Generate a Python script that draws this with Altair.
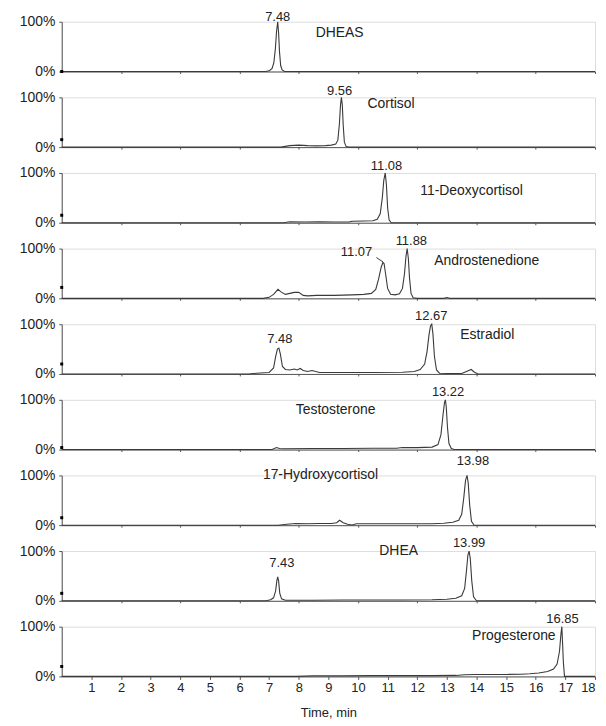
import altair as alt
import pandas as pd

FONT = "Liberation Sans"
INK = "#222222"
LINE = "#3a3a3a"
AXC = "#555555"

compounds = ["DHEAS", "Cortisol", "11-Deoxycortisol", "Androstenedione", "Estradiol",
             "Testosterone", "17-Hydroxycortisol", "DHEA", "Progesterone"]

# ---- traces (time in min, relative intensity in %) ----
t_dheas = [0, 6.9, 7.02, 7.1, 7.16, 7.21, 7.25, 7.29, 7.32, 7.35, 7.39, 7.44, 7.52, 18]
i_dheas = [0, 0, 2, 6, 18, 45, 80, 100, 78, 40, 12, 3, 0, 0]

t_cort = [0, 7.4, 7.7, 8.0, 8.3, 8.6, 8.9, 9.1, 9.25, 9.32, 9.37, 9.41, 9.44, 9.47, 9.5, 9.54, 9.6, 9.7, 18]
i_cort = [0, 0, 3, 4, 3, 2.5, 3, 4, 6, 14, 45, 85, 100, 85, 45, 10, 1, 0, 0]

t_deoxy = [0, 7.5, 7.7, 8.2, 8.7, 9.2, 9.7, 9.8, 10.2, 10.5, 10.65, 10.75, 10.82, 10.87, 10.92, 10.96, 11.0, 11.05, 11.12, 18]
i_deoxy = [0, 0, 2, 1.5, 2, 1.5, 1.5, 3, 3.5, 4, 7, 18, 50, 85, 100, 75, 30, 6, 0, 0]

t_andro = [0, 6.8, 7.0, 7.15, 7.3, 7.4, 7.55, 7.7, 7.85, 8.0, 8.15, 8.3, 8.6, 9.2, 9.8, 10.2, 10.45, 10.6, 10.7,
           10.78, 10.84, 10.88, 10.93, 11.0, 11.1, 11.25, 11.4, 11.5, 11.57, 11.62, 11.66, 11.7, 11.74, 11.79,
           11.86, 12.0, 12.9, 13.0, 13.1, 18]
i_andro = [0, 0, 2, 8, 18, 13, 8, 10, 12, 12, 6, 5, 6, 6, 7, 8, 10, 18, 40,
           62, 72, 70, 50, 20, 8, 7, 9, 20, 50, 85, 100, 80, 40, 10,
           1, 0, 0, 1.5, 0, 0]

t_estra = [0, 6.3, 6.7, 7.0, 7.15, 7.22, 7.28, 7.33, 7.38, 7.45, 7.55, 7.7, 7.85, 7.95, 8.05, 8.15, 8.3, 8.45,
           8.7, 9.5, 10.5, 11.5, 11.9, 12.1, 12.25, 12.33, 12.4, 12.45, 12.49, 12.53, 12.58, 12.65, 12.75, 13.0,
           13.5, 13.7, 13.82, 13.92, 14.05, 18]
i_estra = [0, 0, 2, 3, 12, 35, 50, 52, 40, 15, 9, 8, 10, 8, 11, 7, 5, 7,
           3, 3, 3, 3.5, 5, 9, 20, 45, 80, 97, 100, 80, 35, 8, 1.5, 1,
           1, 6, 9, 4, 0, 0]

t_testo = [0, 7.1, 7.25, 7.35, 7.5, 8.5, 9.5, 10.5, 11.3, 11.5, 12.0, 12.5, 12.7, 12.8, 12.87, 12.92, 12.95,
           12.98, 13.02, 13.07, 13.15, 13.25, 18]
i_testo = [0, 0, 4, 2, 1.5, 2, 2, 2.5, 2.5, 4, 4, 5, 10, 30, 70, 95, 100,
           85, 45, 12, 2, 0, 0]

t_hydro = [0, 7.3, 7.6, 7.9, 8.3, 8.7, 9.1, 9.28, 9.38, 9.5, 9.65, 9.8, 9.95, 10.5, 11.5, 12.5, 12.9, 13.2,
           13.4, 13.5, 13.57, 13.63, 13.68, 13.72, 13.77, 13.83, 13.92, 18]
i_hydro = [0, 0, 2, 3.5, 3, 3.5, 3.5, 5, 10, 5, 2, 0.5, 3, 3, 3, 3, 4, 6,
           10, 22, 55, 90, 100, 85, 40, 8, 0, 0]

t_dhea = [0, 6.9, 7.05, 7.15, 7.22, 7.26, 7.29, 7.32, 7.36, 7.42, 7.55, 8.5, 9.5, 10.5, 11.5, 12.5, 13.0,
          13.3, 13.5, 13.6, 13.66, 13.71, 13.75, 13.79, 13.84, 13.9, 14.0, 18]
i_dhea = [0, 0, 2, 6, 20, 40, 48, 40, 15, 4, 1, 1, 1.5, 1.5, 1.5, 2, 3,
          5, 10, 25, 60, 92, 100, 85, 40, 8, 0, 0]

t_prog = [0, 7.9, 8.5, 9.5, 10.5, 11.5, 12.5, 13.3, 13.6, 14.0, 14.5, 15.0, 15.5, 15.8, 16.1, 16.4, 16.6,
          16.72, 16.8, 16.85, 16.88, 16.91, 16.93, 16.97, 18]
i_prog = [0, 0, 1, 1, 1.5, 1.5, 1.5, 2, 3.5, 4, 4, 4, 4.5, 5.5, 7, 10, 15,
          25, 50, 85, 100, 60, 30, 0, 0]

traces = [(t_dheas, i_dheas), (t_cort, i_cort), (t_deoxy, i_deoxy), (t_andro, i_andro),
          (t_estra, i_estra), (t_testo, i_testo), (t_hydro, i_hydro), (t_dhea, i_dhea), (t_prog, i_prog)]

# ---- peak retention-time labels ----
peak_panel = [0, 1, 2, 3, 3, 4, 4, 5, 6, 7, 7, 8]
peak_text = ["7.48", "9.56", "11.08", "11.07", "11.88", "7.48", "12.67", "13.22", "13.98", "7.43", "13.99", "16.85"]
peak_x = [7.29, 9.38, 10.96, 9.95, 11.8, 7.36, 12.47, 13.04, 13.88, 7.43, 13.75, 16.9]
peak_y = [110, 112, 114, 94, 116, 70, 116, 116, 128, 76, 117, 116]

# ---- compound name labels ----
name_x = [8.57, 10.32, 12.1, 12.57, 13.45, 7.9, 6.79, 10.72, 16.67]
name_y = [78, 86, 64, 76, 78, 80, 100, 100, 82]
name_align = ["left"] * 8 + ["right"]

# leader from "11.07" to its peak (Androstenedione panel)
lead_x = [10.62]
lead_y = [82]
lead_x2 = [10.85]
lead_y2 = [73]

# small marker on each y axis
marker_y = [0, 15, 15, 22, 20, 4, 15, 15, 20]

XS = alt.Scale(domain=[0, 18], nice=False, zero=False)
YS = alt.Scale(domain=[0, 100], nice=False)

W, H = 536, 50


def y_axis():
    return alt.Axis(values=[0, 100], labelExpr="datum.value + '%'", title=None, grid=False,
                    tickSize=3, labelPadding=4, labelFontSize=14, labelFont=FONT, labelColor=INK,
                    domainColor=AXC, tickColor=AXC, minExtent=48)


def x_axis(last):
    if last:
        return alt.Axis(values=list(range(1, 19)), title="Time, min", grid=False, tickSize=3,
                        labelPadding=2, labelFontSize=13, labelFont=FONT, labelColor=INK,
                        labelFlush=True, labelOverlap=False, titleFont=FONT, titleFontSize=13,
                        titleFontWeight="normal", titleColor=INK, titlePadding=12,
                        domainColor=AXC, tickColor=AXC)
    return alt.Axis(values=list(range(2, 19, 2)), labels=False, title=None, grid=False, tickSize=2,
                    domainColor=AXC, tickColor=AXC)


panels = []
for k, name in enumerate(compounds):
    last = k == len(compounds) - 1
    XA = x_axis(last)
    YA = y_axis()

    def xe(field):
        return alt.X(field, scale=XS, axis=XA, title="Time, min" if last else None)

    def ye(field):
        return alt.Y(field, scale=YS, axis=YA, title=None)

    t, inten = traces[k]
    df = pd.DataFrame({"t": t, "i": inten})
    line = alt.Chart(df).mark_line(color=LINE, strokeWidth=1.1).encode(x=xe("t:Q"), y=ye("i:Q"))
    pk = pd.DataFrame({"t": [peak_x[j] for j in range(len(peak_text)) if peak_panel[j] == k],
                       "i": [peak_y[j] for j in range(len(peak_text)) if peak_panel[j] == k],
                       "txt": [peak_text[j] for j in range(len(peak_text)) if peak_panel[j] == k]})
    ptxt = alt.Chart(pk).mark_text(align="center", baseline="middle", font=FONT, fontSize=13,
                                   color=INK).encode(x=xe("t:Q"), y=ye("i:Q"), text="txt:N")
    nm = pd.DataFrame({"t": [name_x[k]], "i": [name_y[k]], "txt": [name]})
    ntxt = alt.Chart(nm).mark_text(align=name_align[k], baseline="middle", font=FONT, fontSize=14,
                                   color=INK).encode(x=xe("t:Q"), y=ye("i:Q"), text="txt:N")
    mk = pd.DataFrame({"t": [0], "i": [marker_y[k]]})
    mark = alt.Chart(mk).mark_square(size=9, color="black", opacity=1).encode(
        x=xe("t:Q"), y=ye("i:Q"))
    layers = [line, ptxt, ntxt, mark]
    if name == "Androstenedione":
        ld = pd.DataFrame({"t": lead_x, "i": lead_y, "t2": lead_x2, "i2": lead_y2})
        layers.append(alt.Chart(ld).mark_rule(color=LINE, strokeWidth=1).encode(
            x=xe("t:Q"), y=ye("i:Q"), x2="t2:Q", y2="i2:Q"))
    panels.append(alt.layer(*layers).properties(width=W, height=H))

chart = alt.vconcat(*panels, spacing=26, bounds="flush").properties(
    padding={"left": 5, "top": 0, "right": 0, "bottom": 0}
).configure_view(stroke=None).configure(background="white")

chart.save("out.html", embed_options={"renderer": "svg", "actions": False})
